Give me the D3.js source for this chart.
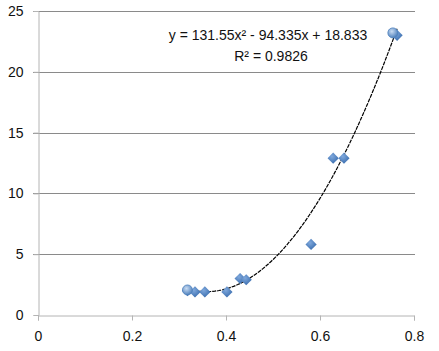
<!DOCTYPE html>
<html>
<head>
<meta charset="utf-8">
<script src="https://cdn.jsdelivr.net/npm/d3@7"></script>
<style>
body { margin: 0; background: #fff; }
text { font-family: "Liberation Sans", Arial, sans-serif; }
</style>
</head>
<body>
<div id="chart"></div>
<script>
// data
const xs = [0.318, 0.334, 0.355, 0.402, 0.430, 0.443, 0.581, 0.628, 0.651, 0.764];
const ys = [2.0, 1.9, 1.9, 1.9, 3.0, 2.9, 5.8, 12.9, 12.9, 23.0];
// the two highlighted (round) points
const hiX = [0.318, 0.755];
const hiY = [2.06, 23.2];
const xTicks = [0, 0.2, 0.4, 0.6, 0.8];
const yTicks = [0, 5, 10, 15, 20, 25];
const coef = [131.55, -94.335, 18.833];
const eqText = "y = 131.55x² - 94.335x + 18.833";
const r2Text = "R² = 0.9826";

const svg = d3.select("#chart").append("svg")
  .attr("width", 439)
  .attr("height", 351);

const margin = { top: 11, left: 38, right: 25, bottom: 36 };
const x = d3.scaleLinear().domain([0, 0.8]).range([margin.left, 439 - margin.right]);
const y = d3.scaleLinear().domain([0, 25]).range([351 - margin.bottom, margin.top]);

// gradient for markers
const defs = svg.append("defs");
const grad = defs.append("radialGradient").attr("id", "mk").attr("cx", "40%").attr("cy", "35%").attr("r", "65%");
grad.append("stop").attr("offset", "0%").attr("stop-color", "#7fa8dc");
grad.append("stop").attr("offset", "100%").attr("stop-color", "#3c6fb0");
const gradC = defs.append("radialGradient").attr("id", "mc").attr("cx", "40%").attr("cy", "35%").attr("r", "65%");
gradC.append("stop").attr("offset", "0%").attr("stop-color", "#c9dcf3");
gradC.append("stop").attr("offset", "100%").attr("stop-color", "#4f81bd");

// gridlines
svg.append("g")
  .selectAll("line")
  .data(yTicks.filter(d => d > 0))
  .enter().append("line")
  .attr("x1", x(0) - 5)
  .attr("x2", x(0.8) + 1)
  .attr("y1", d => Math.round(y(d)) + 0.5)
  .attr("y2", d => Math.round(y(d)) + 0.5)
  .attr("stroke", "#8a8a8a")
  .attr("stroke-width", 1);

// y axis
svg.append("g")
  .attr("transform", `translate(${x(0) + 0.5},0)`)
  .call(d3.axisLeft(y).tickValues(yTicks).tickSize(5).tickPadding(10).tickFormat(d3.format("d")))
  .call(g => g.select(".domain").attr("stroke", "#b4b4b4"))
  .call(g => g.selectAll(".tick line").attr("stroke", "#b4b4b4"))
  .call(g => g.selectAll("text").attr("font-size", 14).attr("fill", "#111"));

// x axis
svg.append("g")
  .attr("transform", `translate(0,${Math.round(y(0)) + 0.5})`)
  .call(d3.axisBottom(x).tickValues(xTicks).tickSize(5).tickPadding(11).tickFormat(d => d === 0 ? "0" : d3.format(".1f")(d)))
  .call(g => g.select(".domain").attr("stroke", "#b4b4b4"))
  .call(g => g.selectAll(".tick line").attr("stroke", "#b4b4b4"))
  .call(g => g.selectAll("text").attr("font-size", 14).attr("fill", "#111"));

// trendline
const fit = v => coef[0] * v * v + coef[1] * v + coef[2];
const xmin = d3.min(xs), xmax = d3.max(xs);
const trend = d3.range(0, 101).map(i => xmin + (xmax - xmin) * i / 100);
svg.append("path")
  .datum(trend)
  .attr("fill", "none")
  .attr("stroke", "#000")
  .attr("stroke-width", 1.2)
  .attr("stroke-dasharray", "4,1")
  .attr("d", d3.line().x(d => x(d)).y(d => y(fit(d))));

// diamonds
const pts = xs.map((v, i) => [v, ys[i]]);
svg.append("g")
  .selectAll("path")
  .data(pts)
  .enter().append("path")
  .attr("transform", d => `translate(${x(d[0])},${y(d[1])})`)
  .attr("d", d3.symbol().type(d3.symbolDiamond2).size(80))
  .attr("fill", "url(#mk)");

// round points
svg.append("g")
  .selectAll("circle")
  .data(hiX.map((v, i) => [v, hiY[i]]))
  .enter().append("circle")
  .attr("cx", d => x(d[0]))
  .attr("cy", d => y(d[1]))
  .attr("r", 5)
  .attr("fill", "url(#mc)")
  .attr("stroke", "#4f81bd")
  .attr("stroke-width", 0.8);

// equation labels
svg.append("text")
  .attr("x", 268)
  .attr("y", 40)
  .attr("text-anchor", "middle")
  .attr("font-size", 14)
  .attr("fill", "#111")
  .text(eqText);
svg.append("text")
  .attr("x", 271)
  .attr("y", 61)
  .attr("text-anchor", "middle")
  .attr("font-size", 14)
  .attr("fill", "#111")
  .text(r2Text);
</script>
</body>
</html>
